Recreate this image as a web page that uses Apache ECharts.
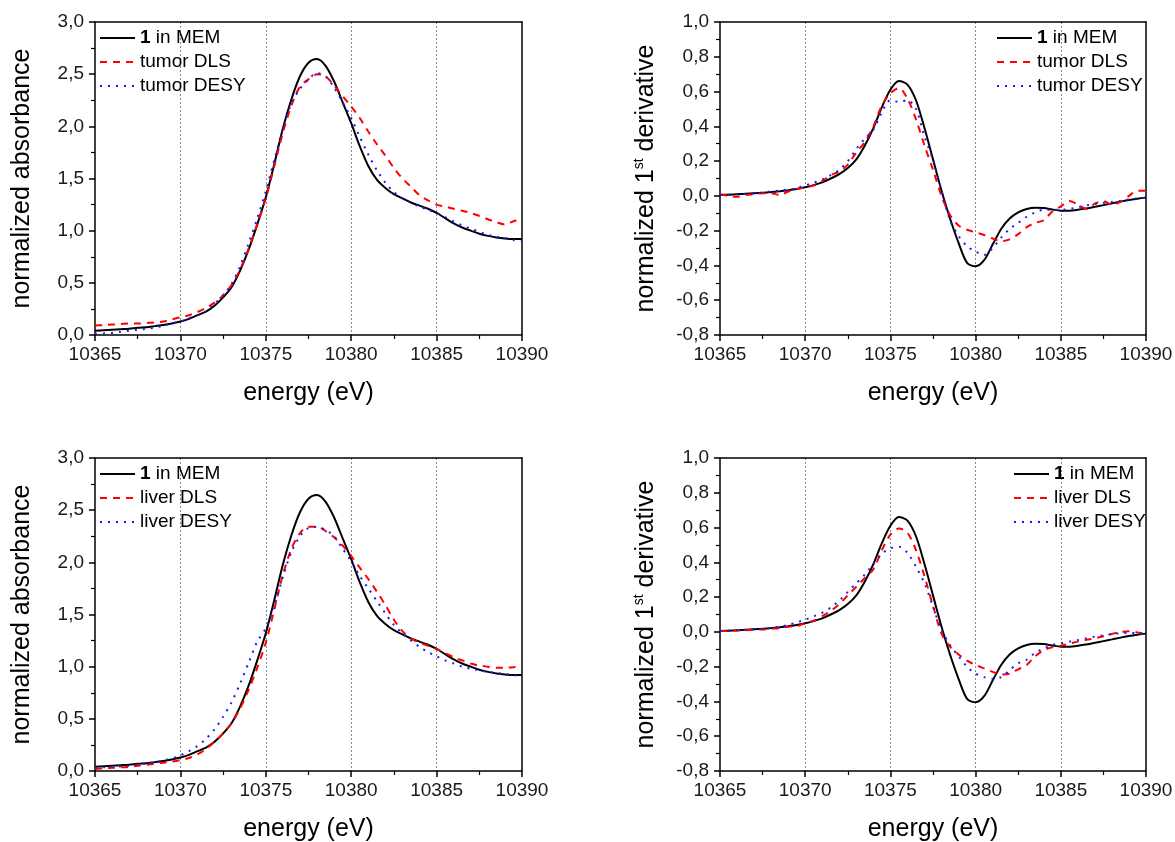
<!DOCTYPE html>
<html><head><meta charset="utf-8">
<script src="https://cdn.jsdelivr.net/npm/echarts@6/dist/echarts.min.js"></script>
<style>html,body{margin:0;padding:0;background:#fff}#c{width:1175px;height:842px}</style>
</head><body><div id="c"></div>
<script>
// energy sample positions (eV)
const energy = [10365,10365.5,10366,10366.5,10367,10367.5,10368,10368.5,10369,10369.5,
  10370,10370.5,10371,10371.5,10372,10372.5,10373,10373.5,10374,10374.5,
  10375,10375.5,10376,10376.5,10377,10377.5,10378,10378.5,10379,10379.5,
  10380,10380.5,10381,10381.5,10382,10382.5,10383,10383.5,10384,10384.5,
  10385,10385.5,10386,10386.5,10387,10387.5,10388,10388.5,10389,10389.5,10390];

// normalized absorbance
const memAbs = [0.04,0.045,0.05,0.055,0.06,0.07,0.075,0.085,0.095,0.11,
  0.13,0.155,0.19,0.225,0.28,0.36,0.46,0.62,0.82,1.06,
  1.32,1.64,1.98,2.26,2.48,2.61,2.645,2.58,2.43,2.23,
  2.03,1.81,1.62,1.49,1.41,1.35,1.31,1.27,1.24,1.21,
  1.17,1.12,1.07,1.03,1.00,0.97,0.95,0.935,0.925,0.92,0.92];
const tumorDlsAbs = [0.09,0.095,0.10,0.105,0.11,0.11,0.115,0.12,0.13,0.15,
  0.17,0.19,0.22,0.26,0.31,0.38,0.48,0.63,0.83,1.06,
  1.31,1.62,1.94,2.20,2.38,2.45,2.50,2.48,2.39,2.29,
  2.19,2.08,1.95,1.83,1.72,1.60,1.50,1.42,1.34,1.29,
  1.25,1.23,1.21,1.19,1.17,1.14,1.11,1.08,1.06,1.09,1.12];
const tumorDesyAbs = [0.01,0.015,0.02,0.03,0.04,0.05,0.06,0.07,0.09,0.11,
  0.13,0.16,0.19,0.23,0.30,0.38,0.49,0.66,0.88,1.12,
  1.38,1.68,1.98,2.22,2.36,2.45,2.51,2.48,2.37,2.23,
  2.08,1.90,1.73,1.58,1.46,1.37,1.31,1.27,1.23,1.20,
  1.17,1.13,1.09,1.05,1.02,0.99,0.96,0.94,0.93,0.91,0.90];
const liverDlsAbs = [0.02,0.025,0.03,0.035,0.04,0.05,0.06,0.07,0.08,0.09,
  0.105,0.125,0.16,0.21,0.28,0.36,0.46,0.60,0.78,0.99,
  1.23,1.55,1.88,2.13,2.28,2.34,2.34,2.30,2.24,2.16,
  2.06,1.95,1.84,1.72,1.59,1.45,1.34,1.27,1.23,1.20,
  1.17,1.13,1.09,1.06,1.03,1.01,1.00,0.99,0.99,0.995,1.00];
const liverDesyAbs = [0.03,0.035,0.04,0.045,0.05,0.06,0.07,0.08,0.10,0.12,
  0.15,0.19,0.24,0.31,0.40,0.52,0.66,0.84,1.04,1.24,
  1.37,1.58,1.86,2.10,2.25,2.33,2.34,2.31,2.25,2.13,
  2.01,1.87,1.75,1.63,1.51,1.40,1.32,1.25,1.19,1.14,
  1.10,1.06,1.03,1.00,0.98,0.965,0.95,0.94,0.93,0.92,0.91];

// normalized 1st derivative
const memDer = [0.005,0.007,0.01,0.012,0.015,0.018,0.022,0.027,0.033,0.04,
  0.05,0.062,0.078,0.10,0.125,0.16,0.21,0.29,0.39,0.51,
  0.61,0.66,0.64,0.55,0.39,0.21,0.03,-0.13,-0.27,-0.385,
  -0.405,-0.37,-0.28,-0.19,-0.13,-0.095,-0.075,-0.068,-0.07,-0.078,
  -0.085,-0.085,-0.08,-0.072,-0.063,-0.053,-0.043,-0.033,-0.024,-0.016,-0.01];
const tumorDlsDer = [0.01,0.0,-0.005,0.005,0.01,0.015,0.015,0.005,0.025,0.04,
  0.05,0.06,0.085,0.12,0.14,0.18,0.25,0.31,0.40,0.52,
  0.59,0.62,0.56,0.44,0.29,0.15,0.0,-0.11,-0.17,-0.195,
  -0.21,-0.225,-0.245,-0.26,-0.25,-0.22,-0.18,-0.155,-0.14,-0.09,
  -0.06,-0.03,-0.05,-0.075,-0.045,-0.03,-0.05,-0.035,0.0,0.03,0.03];
const tumorDesyDer = [0.005,0.007,0.01,0.012,0.015,0.02,0.025,0.03,0.035,0.045,
  0.06,0.075,0.095,0.12,0.15,0.20,0.27,0.33,0.38,0.48,
  0.55,0.54,0.55,0.50,0.34,0.21,0.03,-0.14,-0.23,-0.29,
  -0.32,-0.34,-0.30,-0.24,-0.19,-0.155,-0.12,-0.095,-0.08,-0.08,
  -0.08,-0.075,-0.065,-0.055,-0.045,-0.04,-0.035,-0.028,-0.02,-0.014,-0.01];
const liverDlsDer = [0.005,0.006,0.008,0.01,0.012,0.014,0.018,0.022,0.03,0.032,
  0.05,0.065,0.09,0.12,0.16,0.21,0.26,0.31,0.36,0.47,
  0.56,0.595,0.57,0.47,0.32,0.15,-0.01,-0.085,-0.13,-0.165,
  -0.19,-0.21,-0.23,-0.245,-0.24,-0.215,-0.19,-0.14,-0.105,-0.088,
  -0.08,-0.068,-0.056,-0.046,-0.037,-0.025,-0.012,0.0,0.003,-0.003,-0.012];
const liverDesyDer = [0.005,0.007,0.01,0.012,0.015,0.018,0.022,0.03,0.04,0.055,
  0.07,0.09,0.11,0.14,0.18,0.23,0.28,0.33,0.39,0.45,
  0.48,0.49,0.455,0.375,0.28,0.145,0.01,-0.075,-0.14,-0.20,
  -0.24,-0.26,-0.27,-0.26,-0.22,-0.18,-0.16,-0.12,-0.095,-0.075,
  -0.066,-0.056,-0.047,-0.037,-0.027,-0.02,-0.012,-0.008,-0.005,-0.008,-0.012];

const FONT = 'Liberation Sans, Arial, Helvetica, sans-serif';
const pair = vals => energy.map((e, i) => [e, vals[i]]);

const grids = [
  {left: 95, top: 22, width: 427, height: 313},
  {left: 720, top: 22, width: 426, height: 313},
  {left: 95, top: 458, width: 427, height: 313},
  {left: 720, top: 458, width: 426, height: 313}
].map(g => Object.assign({outerBoundsMode: 'none', containLabel: false}, g));

const black = {color: '#000', width: 1.5};
function xMain(gi) {
  return {
    type: 'value', gridIndex: gi, min: 10365, max: 10390, interval: 5, position: 'bottom',
    axisLine: {show: true, onZero: false, lineStyle: black},
    axisTick: {show: true, length: 6, lineStyle: black},
    minorTick: {show: true, splitNumber: 2, length: 4, lineStyle: {color: '#000', width: 1.2}},
    axisLabel: {fontSize: 19, color: '#1a1a1a', margin: 10, fontFamily: FONT, formatter: v => String(v)},
    splitLine: {show: true, showMinLine: false, showMaxLine: false, lineStyle: {type: [2, 2], color: '#888', width: 1}},
    name: 'energy (eV)', nameLocation: 'middle', nameGap: 46,
    nameTextStyle: {fontSize: 25, color: '#000', fontFamily: FONT}
  };
}
function xTop(gi) {
  return {type: 'value', gridIndex: gi, min: 10365, max: 10390, position: 'top',
    axisLine: {show: true, onZero: false, lineStyle: black}, axisTick: {show: false},
    axisLabel: {show: false}, splitLine: {show: false}};
}
const comma = v => v.toFixed(1).replace('.', ',');
function yMain(gi, min, max, interval, name, rich) {
  return {
    type: 'value', gridIndex: gi, min: min, max: max, interval: interval, position: 'left',
    axisLine: {show: true, onZero: false, lineStyle: black},
    axisTick: {show: true, length: 6, lineStyle: black},
    minorTick: {show: true, splitNumber: 2, length: 4, lineStyle: {color: '#000', width: 1.2}},
    axisLabel: {fontSize: 19, color: '#1a1a1a', margin: 11, fontFamily: FONT, formatter: comma},
    splitLine: {show: false},
    name: name, nameLocation: 'middle', nameRotate: 90, nameGap: 60,
    nameTextStyle: {fontSize: 25, color: '#000', fontFamily: FONT, rich: rich}
  };
}
function yRight(gi, min, max) {
  return {type: 'value', gridIndex: gi, min: min, max: max, position: 'right',
    axisLine: {show: true, onZero: false, lineStyle: black}, axisTick: {show: false},
    axisLabel: {show: false}, splitLine: {show: false}};
}
const derRich = {
  a: {fontSize: 25, color: '#000', fontFamily: FONT, lineHeight: 28},
  s: {fontSize: 14, color: '#000', fontFamily: FONT, verticalAlign: 'top'}
};
const derName = '{a|normalized 1}{s|st}{a| derivative}';

const xAxes = [xMain(0), xMain(1), xMain(2), xMain(3), xTop(0), xTop(1), xTop(2), xTop(3)];
const yAxes = [
  yMain(0, 0, 3, 0.5, 'normalized absorbance'),
  yMain(1, -0.8, 1.0, 0.2, derName, derRich),
  yMain(2, 0, 3, 0.5, 'normalized absorbance'),
  yMain(3, -0.8, 1.0, 0.2, derName, derRich),
  yRight(0, 0, 3), yRight(1, -0.8, 1.0), yRight(2, 0, 3), yRight(3, -0.8, 1.0)
];

const styles = {
  mem: {color: '#000000', width: 2, type: 'solid'},
  dls: {color: '#ff0000', width: 2, type: [7, 6]},
  desy: {color: '#1a1aff', width: 2, type: [2, 6]}
};
function line(name, gi, vals, st) {
  return {
    name: name, type: 'line', xAxisIndex: gi, yAxisIndex: gi, data: pair(vals),
    symbol: 'none', showSymbol: false, smooth: 0.3,
    lineStyle: st, itemStyle: {color: st.color}, z: 3
  };
}
const series = [
  line('1 in MEM', 0, memAbs, styles.mem),
  line('tumor DLS', 0, tumorDlsAbs, styles.dls),
  line('tumor DESY', 0, tumorDesyAbs, styles.desy),
  line('1 in MEM', 1, memDer, styles.mem),
  line('tumor DLS', 1, tumorDlsDer, styles.dls),
  line('tumor DESY', 1, tumorDesyDer, styles.desy),
  line('1 in MEM', 2, memAbs, styles.mem),
  line('liver DLS', 2, liverDlsAbs, styles.dls),
  line('liver DESY', 2, liverDesyAbs, styles.desy),
  line('1 in MEM', 3, memDer, styles.mem),
  line('liver DLS', 3, liverDlsDer, styles.dls),
  line('liver DESY', 3, liverDesyDer, styles.desy)
];

function legend(left, top, names) {
  return {
    left: left, top: top, orient: 'vertical', padding: 0, itemWidth: 35, itemHeight: 14, itemGap: 4,
    selectedMode: false, data: names,
    itemStyle: {opacity: 0, borderWidth: 0},
    formatter: n => n === '1 in MEM' ? '{b|1}{n| in MEM}' : '{n|' + n + '}',
    textStyle: {fontSize: 19, color: '#000', fontFamily: FONT, lineHeight: 20,
      rich: {b: {fontSize: 19, fontWeight: 'bold', color: '#000', fontFamily: FONT, lineHeight: 20},
             n: {fontSize: 19, color: '#000', fontFamily: FONT, lineHeight: 20}}}
  };
}

const chart = echarts.init(document.getElementById('c'), null, {renderer: 'canvas'});
chart.setOption({
  animation: false,
  backgroundColor: '#fff',
  textStyle: {fontFamily: FONT},
  grid: grids,
  xAxis: xAxes,
  yAxis: yAxes,
  legend: [
    legend(99, 28, ['1 in MEM', 'tumor DLS', 'tumor DESY']),
    legend(996, 28, ['1 in MEM', 'tumor DLS', 'tumor DESY']),
    legend(99, 464, ['1 in MEM', 'liver DLS', 'liver DESY']),
    legend(1013, 464, ['1 in MEM', 'liver DLS', 'liver DESY'])
  ],
  series: series
});
</script>
</body></html>
